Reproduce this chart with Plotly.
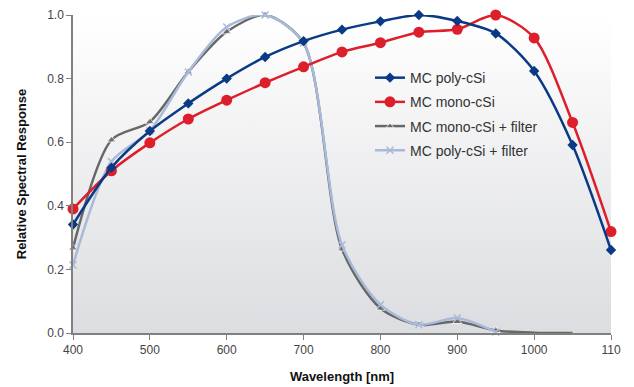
import plotly.graph_objects as go

wavelength = [400, 450, 500, 550, 600, 650, 700, 750, 800, 850, 900, 950, 1000, 1050, 1100]
poly_csi = [0.341, 0.52, 0.635, 0.722, 0.80, 0.868, 0.918, 0.954, 0.98, 1.0, 0.981, 0.942, 0.824, 0.591, 0.261]
mono_csi = [0.39, 0.51, 0.598, 0.673, 0.732, 0.787, 0.837, 0.884, 0.913, 0.946, 0.955, 1.0, 0.928, 0.662, 0.319]

filter_wl = [400, 450, 500, 550, 600, 650, 700, 750, 800, 850, 900, 950, 1000, 1050]
mono_filter = [0.267, 0.607, 0.664, 0.821, 0.947, 1.0, 0.912, 0.264, 0.078, 0.026, 0.036, 0.008, 0.001, 0.0]
poly_filter_wl = [400, 450, 500, 550, 600, 650, 700, 750, 800, 850, 900, 950]
poly_filter = [0.214, 0.539, 0.636, 0.821, 0.962, 1.0, 0.912, 0.277, 0.089, 0.026, 0.047, 0.003]

x_ticks = [400, 500, 600, 700, 800, 900, 1000, 1100]
x_ticktext = ["400", "500", "600", "700", "800", "900", "1000", "110"]
y_ticks = [0.0, 0.2, 0.4, 0.6, 0.8, 1.0]

X_MIN, X_MAX, Y_MIN, Y_MAX = 400, 1100, 0.0, 1.0

fig = go.Figure()

# gradient background of the plotting area
fig.add_trace(go.Scatter(
    x=[X_MIN, X_MAX, X_MAX, X_MIN, X_MIN],
    y=[Y_MIN, Y_MIN, Y_MAX, Y_MAX, Y_MIN],
    mode="lines", line=dict(width=0), fill="toself",
    fillgradient=dict(type="vertical", colorscale=[[0, "#dcdde0"], [1, "#ffffff"]]),
    hoverinfo="skip", showlegend=False,
))

blue = "#0a3a86"
red = "#dc1f2b"
grey = "#676767"
lblue = "#a9bad9"

mono_sizes = [8] * 12 + [0, 0]

fig.add_trace(go.Scatter(
    x=filter_wl, y=mono_filter, name="MC mono-cSi + filter", legendgroup="c",
    mode="lines+markers", line=dict(color=grey, width=2.5, shape="spline", smoothing=0.8),
    marker=dict(symbol="triangle-up", size=mono_sizes, color=grey), legendrank=3,
    cliponaxis=False,
))
fig.add_trace(go.Scatter(
    x=poly_filter_wl, y=poly_filter, name="MC poly-cSi + filter", legendgroup="d",
    mode="lines+markers", line=dict(color=lblue, width=2.5, shape="spline", smoothing=0.8),
    marker=dict(symbol="x-thin", size=7, color=lblue, line=dict(color=lblue, width=1.5)), legendrank=4,
    cliponaxis=False,
))
fig.add_trace(go.Scatter(
    x=wavelength, y=mono_csi, name="MC mono-cSi", legendgroup="b",
    mode="lines+markers", line=dict(color=red, width=2.5, shape="spline", smoothing=0.8),
    marker=dict(symbol="circle", size=11, color=red), legendrank=2,
    cliponaxis=False,
))
fig.add_trace(go.Scatter(
    x=wavelength, y=poly_csi, name="MC poly-cSi", legendgroup="a",
    mode="lines+markers", line=dict(color=blue, width=2.5, shape="spline", smoothing=0.8),
    marker=dict(symbol="diamond", size=8, color=blue), legendrank=1,
    cliponaxis=False,
))

axis_font = dict(family="Liberation Sans, Arial, sans-serif", size=12, color="#444444")

# the page body adds an 8px offset, so the figure is sized 626x379
fig.update_layout(
    width=626, height=379,
    margin=dict(l=65, r=23, t=7, b=54),
    paper_bgcolor="white", plot_bgcolor="white",
    font=dict(family="Liberation Sans, Arial, sans-serif", color="#333333"),
    showlegend=True,
    legend=dict(
        x=0.552, y=0.852, xanchor="left", yanchor="top",
        bgcolor="rgba(0,0,0,0)", font=dict(size=14, color="#333333"),
        itemwidth=30, tracegroupgap=3,
    ),
    xaxis=dict(
        range=[X_MIN, X_MAX], tickvals=x_ticks, ticktext=x_ticktext, automargin=False,
        showgrid=False, zeroline=False, showline=True, linecolor="#808080", linewidth=1.5,
        ticks="outside", ticklen=5, tickcolor="#808080", tickfont=axis_font,
        title=dict(text="<b>Wavelength [nm]</b>", font=dict(size=13, color="#111111"), standoff=16),
    ),
    yaxis=dict(
        range=[Y_MIN, Y_MAX], tickvals=y_ticks, tickformat=".1f", automargin=False,
        showgrid=False, zeroline=False, showline=True, linecolor="#808080", linewidth=1.5,
        ticks="outside", ticklen=5, tickcolor="#808080", tickfont=axis_font,
        title=dict(text="<b>Relative Spectral Response</b>", font=dict(size=13, color="#111111"), standoff=18),
    ),
)

fig.write_html("out.html")
